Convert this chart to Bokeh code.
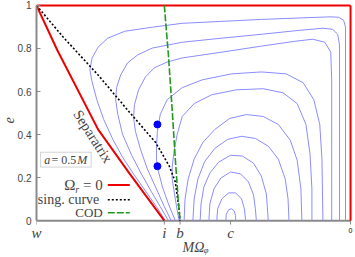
from bokeh.plotting import figure
from bokeh.models import Range1d, FixedTicker, Label, BoxAnnotation
from bokeh.core.properties import value
from bokeh.embed import file_html
from bokeh.resources import INLINE

# x: M*Omega_phi as fraction of w (w at left = 1, 0 at right)
tick_pos = [1.0, 0.593, 0.543, 0.382]
tick_lab = ["w", "i", "b", "c"]
zero_pos = [0.0]
zero_lab = ["0"]
e_ticks = [0.0, 0.2, 0.4, 0.6, 0.8, 1.0]
e_labs = ["0", "0.2", "0.4", "0.6", "0.8", "1"]

# Omega_r = 0 (separatrix)
sep_u = [1.0, 0.934, 0.804, 0.703, 0.593]
sep_e = [1.0, 0.793, 0.424, 0.217, 0.0]
# singular curve
sing_u = [1.0, 0.915, 0.804, 0.703, 0.621, 0.577, 0.558, 0.546, 0.543]
sing_e = [1.0, 0.853, 0.677, 0.502, 0.364, 0.253, 0.180, 0.055, 0.0]
# COD
cod_u = [0.593, 0.580, 0.568, 0.558, 0.549, 0.543]
cod_e = [1.0, 0.770, 0.516, 0.286, 0.101, 0.0]
# isofrequency pair
dot_u = [0.615, 0.615]
dot_e = [0.447, 0.253]

# contour lines (outer five wrap round, inner six are arches)
cont_u = [
    [0.590, 0.618, 0.653, 0.691, 0.726, 0.757, 0.786, 0.808, 0.823, 0.830, 0.823, 0.804, 0.773, 0.719,
     0.631, 0.536, 0.410, 0.284, 0.158, 0.063, 0.038, 0.022, 0.016, 0.016, 0.016],
    [0.580, 0.606, 0.634, 0.666, 0.697, 0.726, 0.741, 0.748, 0.745, 0.732, 0.710, 0.678, 0.631, 0.536,
     0.410, 0.284, 0.158, 0.088, 0.057, 0.041, 0.035, 0.035, 0.035],
    [0.571, 0.593, 0.618, 0.647, 0.669, 0.685, 0.691, 0.688, 0.675, 0.653, 0.625, 0.584, 0.536, 0.410,
     0.284, 0.174, 0.120, 0.082, 0.063, 0.060, 0.060],
    [0.558, 0.580, 0.599, 0.612, 0.618, 0.618, 0.615, 0.606, 0.584, 0.536, 0.473, 0.379, 0.284, 0.205,
     0.151, 0.117, 0.098, 0.091, 0.088],
    [0.546, 0.555, 0.562, 0.568, 0.568, 0.562, 0.552, 0.536, 0.498, 0.442, 0.363, 0.278, 0.215, 0.170,
     0.142, 0.129, 0.123, 0.123],
    [0.530, 0.527, 0.517, 0.498, 0.470, 0.432, 0.385, 0.331, 0.278, 0.230, 0.192, 0.170, 0.158, 0.155],
    [0.502, 0.498, 0.486, 0.464, 0.432, 0.391, 0.347, 0.303, 0.262, 0.230, 0.208, 0.199, 0.196],
    [0.479, 0.476, 0.467, 0.448, 0.420, 0.382, 0.344, 0.309, 0.284, 0.268, 0.262],
    [0.451, 0.448, 0.435, 0.413, 0.382, 0.350, 0.325, 0.309, 0.303, 0.300],
    [0.426, 0.423, 0.410, 0.388, 0.366, 0.347, 0.338, 0.334],
    [0.397, 0.396, 0.388, 0.379, 0.371, 0.366, 0.366],
]
cont_e = [
    [0.0, 0.065, 0.138, 0.217, 0.295, 0.378, 0.470, 0.562, 0.645, 0.700, 0.756, 0.806, 0.848, 0.880,
     0.899, 0.917, 0.926, 0.935, 0.942, 0.947, 0.945, 0.931, 0.899, 0.793, 0.0],
    [0.0, 0.065, 0.134, 0.217, 0.304, 0.401, 0.493, 0.562, 0.618, 0.677, 0.733, 0.770, 0.802, 0.829,
     0.848, 0.866, 0.885, 0.894, 0.889, 0.866, 0.816, 0.654, 0.0],
    [0.0, 0.065, 0.147, 0.240, 0.332, 0.415, 0.479, 0.539, 0.608, 0.668, 0.710, 0.737, 0.756, 0.783,
     0.811, 0.834, 0.843, 0.829, 0.783, 0.654, 0.0],
    [0.0, 0.078, 0.157, 0.230, 0.286, 0.346, 0.415, 0.493, 0.562, 0.618, 0.654, 0.682, 0.691, 0.682,
     0.641, 0.562, 0.447, 0.286, 0.0],
    [0.0, 0.074, 0.138, 0.194, 0.249, 0.323, 0.401, 0.484, 0.544, 0.585, 0.608, 0.613, 0.594, 0.544,
     0.447, 0.309, 0.147, 0.0],
    [0.0, 0.101, 0.194, 0.286, 0.364, 0.424, 0.475, 0.493, 0.484, 0.447, 0.374, 0.281, 0.147, 0.0],
    [0.0, 0.101, 0.194, 0.276, 0.336, 0.378, 0.392, 0.382, 0.346, 0.286, 0.194, 0.101, 0.0],
    [0.0, 0.078, 0.157, 0.221, 0.272, 0.304, 0.300, 0.267, 0.207, 0.124, 0.0],
    [0.0, 0.078, 0.147, 0.198, 0.226, 0.217, 0.180, 0.120, 0.055, 0.0],
    [0.0, 0.055, 0.101, 0.129, 0.129, 0.101, 0.055, 0.0],
    [0.0, 0.028, 0.051, 0.055, 0.046, 0.023, 0.0],
]

SERIF = "Liberation Serif"
SANS = "Liberation Sans"
RED = "#ee0000"
GRAY = "#8a8a8a"

p = figure(width=355, height=257, output_backend="svg", toolbar_location=None,
           x_range=Range1d(1.0, -0.0126), y_range=Range1d(-0.0783, 1.009),
           min_border_left=33, min_border_right=1, min_border_top=3, min_border_bottom=18)
p.outline_line_color = None
p.grid.visible = False
p.background_fill_color = "white"

# y axis
p.yaxis.bounds = (0, 1)
p.yaxis.axis_line_color = GRAY
p.yaxis.axis_line_width = 2
p.yaxis.major_tick_line_color = GRAY
p.yaxis.minor_tick_line_color = None
p.yaxis.ticker = FixedTicker(ticks=e_ticks)
p.yaxis.major_label_overrides = dict(zip(e_ticks, e_labs))
p.yaxis.major_tick_in = 4
p.yaxis.major_tick_out = 0
p.yaxis.major_label_text_font = SANS
p.yaxis.major_label_text_font_size = "10px"
p.yaxis.major_label_standoff = 5
p.yaxis.axis_label = "e"
p.yaxis.axis_label_text_font = SERIF
p.yaxis.axis_label_text_font_style = "italic"
p.yaxis.axis_label_text_font_size = "14px"
p.yaxis.axis_label_standoff = 1

# x axis: tick labels pulled up to sit just under the e = 0 baseline
p.xaxis.ticker = FixedTicker(ticks=tick_pos)
p.xaxis.major_label_overrides = dict(zip(tick_pos, tick_lab))
p.xaxis.axis_line_color = None
p.xaxis.major_tick_line_color = None
p.xaxis.minor_tick_line_color = None
p.xaxis.major_tick_in = 0
p.xaxis.major_tick_out = 0
p.xaxis.major_label_standoff = -13
p.xaxis.major_label_text_font = SERIF
p.xaxis.major_label_text_font_style = "italic"
p.xaxis.major_label_text_font_size = "15px"
p.xaxis.axis_label = "MΩᵩ"
p.xaxis.axis_label_text_font = SERIF
p.xaxis.axis_label_text_font_style = "italic"
p.xaxis.axis_label_text_font_size = "14px"
p.xaxis.axis_label_standoff = -4

p.line([tick_pos[0], zero_pos[0]], [0, 0], line_color=GRAY, line_width=2)
p.segment(x0=tick_pos + zero_pos, y0=0, x1=tick_pos + zero_pos, y1=-0.018,
          line_color=GRAY, line_width=1)
p.text(x=zero_pos, y=-0.045, text=zero_lab, text_font=value(SANS),
       text_font_size="7px", text_align="center", text_baseline="middle")

# boundaries e = 1 and Omega_phi = 0
p.line([tick_pos[0], zero_pos[0]], [1, 1], line_color=RED, line_width=2)
p.line([zero_pos[0], zero_pos[0]], [0, 1], line_color=RED, line_width=2)

p.multi_line(xs=cont_u, ys=cont_e, line_color="#8c8cff", line_width=1)
p.line(sep_u, sep_e, line_color=RED, line_width=2)
p.line(sing_u, sing_e, line_color="black", line_width=1.6, line_dash="2 2")
p.line(cod_u, cod_e, line_color="#1f9a1f", line_width=1.6, line_dash="7 2")
p.scatter(dot_u, dot_e, size=7, color="#0000ff")

# legend (text, then line sample)
def leg_line(y, **kw):
    p.line([0.773, 0.703], [y, y], **kw)

p.add_layout(Label(x=0.912, y=0.166, text="Ω", text_font=SERIF, text_font_size="15px",
                   text_baseline="middle", text_align="left"))
p.add_layout(Label(x=0.877, y=0.146, text="r", text_font=SERIF, text_font_style="italic",
                   text_font_size="10px", text_baseline="middle", text_align="left"))
p.add_layout(Label(x=0.789, y=0.166, text="= 0", text_font=SERIF, text_font_size="15px",
                   text_baseline="middle", text_align="right"))
leg_line(0.166, line_color=RED, line_width=2)
p.add_layout(Label(x=0.789, y=0.097, text="sing.  curve", text_font=SERIF, text_font_size="14px",
                   text_baseline="middle", text_align="right"))
leg_line(0.097, line_color="black", line_width=1.6, line_dash="2 2")
p.add_layout(Label(x=0.789, y=0.037, text="COD", text_font=SERIF, text_font_size="13px",
                   text_baseline="middle", text_align="right"))
leg_line(0.037, line_color="#1f9a1f", line_width=1.6, line_dash="7 2")

# a = 0.5M box
p.add_layout(BoxAnnotation(left=0.987, right=0.826, bottom=0.249, top=0.318,
                           fill_color="white", fill_alpha=1, line_color="#666666", line_width=1))
p.add_layout(Label(x=0.975, y=0.283, text="a", text_font=SERIF, text_font_style="italic",
                   text_font_size="12px", text_baseline="middle", text_align="left"))
p.add_layout(Label(x=0.952, y=0.283, text="= 0.5", text_font=SERIF,
                   text_font_size="12px", text_baseline="middle", text_align="left"))
p.add_layout(Label(x=0.870, y=0.283, text="M", text_font=SERIF, text_font_style="italic",
                   text_font_size="12px", text_baseline="middle", text_align="left"))

# Separatrix label
p.add_layout(Label(x=0.820, y=0.392, text="Separatrix", text_font=SERIF, text_font_size="14.5px",
                   angle=-1.0, text_align="center", text_baseline="middle"))

open("out.html", "w").write(file_html(p, INLINE))
